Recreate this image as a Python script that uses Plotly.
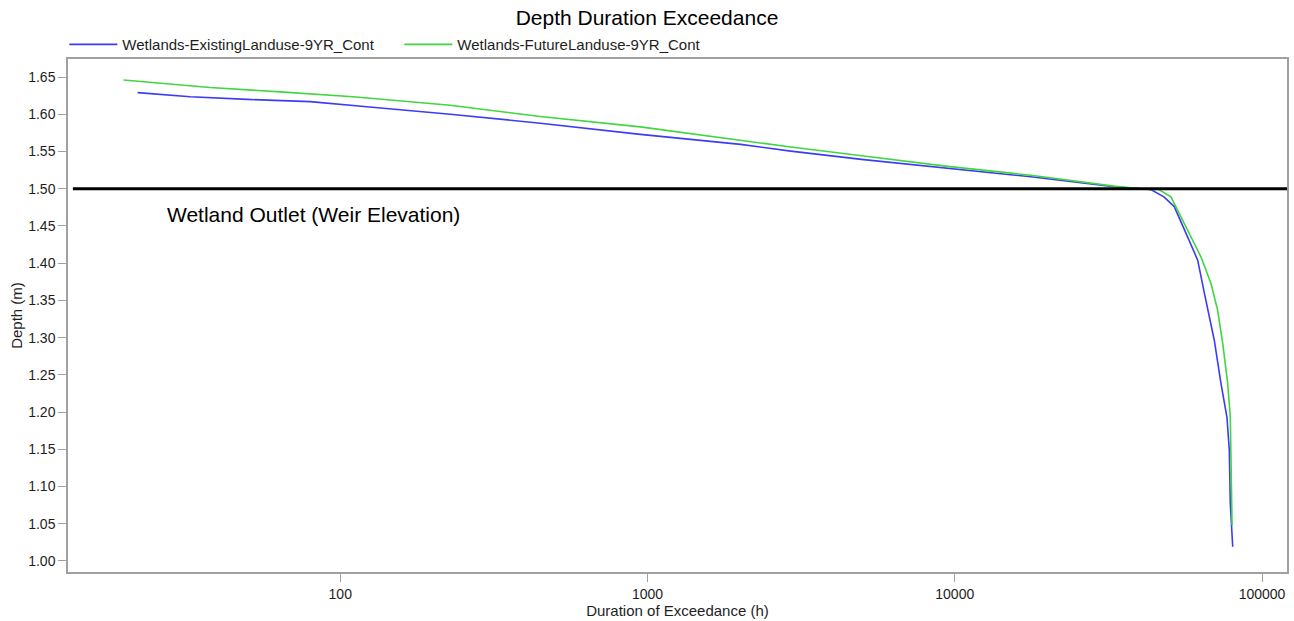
import math
import plotly.graph_objects as go

# ---- data ----
existing_duration = [21.9, 32.5, 49.7, 79.8, 122, 228, 448, 948, 2009, 2925, 5053, 9485,
                     17690, 32960, 43450, 47950, 51800, 57300, 61750, 64900, 69930,
                     73500, 76900, 78260, 78860, 80290]
existing_depth = [1.629, 1.6235, 1.620, 1.617, 1.610, 1.600, 1.588, 1.573, 1.5595, 1.5505,
                  1.539, 1.527, 1.516, 1.5026, 1.499, 1.489, 1.476, 1.435, 1.404, 1.360,
                  1.2965, 1.239, 1.193, 1.149, 1.077, 1.019]

future_duration = [19.7, 37.7, 63.8, 110, 228, 448, 948, 2009, 2925, 5053, 9485, 17690,
                   32960, 42550, 46180, 50530, 57300, 63270, 68190, 71700, 74480, 77300,
                   78860, 79300, 79900]
future_depth = [1.646, 1.636, 1.630, 1.6235, 1.612, 1.597, 1.583, 1.565, 1.556, 1.544,
                1.530, 1.518, 1.5035, 1.499, 1.499, 1.489, 1.444, 1.4085, 1.373, 1.337,
                1.2925, 1.239, 1.193, 1.104, 1.048]

WEIR_ELEVATION = 1.50
x_tick_vals = [100, 1000, 10000, 100000]
x_tick_text = ["100", "1000", "10000", "100000"]
y_tick_vals = [1.00, 1.05, 1.10, 1.15, 1.20, 1.25, 1.30, 1.35, 1.40, 1.45, 1.50, 1.55, 1.60, 1.65]

FONT = "Arial, Liberation Sans, sans-serif"
AXIS_GRAY = "#a0a0a0"
TEXT = "#1e1e1e"

fig = go.Figure()
fig.add_trace(go.Scatter(x=existing_duration, y=existing_depth, mode="lines",
                         name="Wetlands-ExistingLanduse-9YR_Cont",
                         line=dict(color="#3c3cf4", width=1.6)))
fig.add_trace(go.Scatter(x=future_duration, y=future_depth, mode="lines",
                         name="Wetlands-FutureLanduse-9YR_Cont",
                         line=dict(color="#3fd63f", width=1.6)))

fig.add_shape(type="line", xref="paper", yref="y", x0=0.004, x1=1,
              y0=WEIR_ELEVATION, y1=WEIR_ELEVATION, line=dict(color="black", width=3))
fig.add_annotation(text="Wetland Outlet (Weir Elevation)", xref="paper", yref="y",
                   x=0.0796, y=1.466, xanchor="left", yanchor="middle", showarrow=False,
                   font=dict(family=FONT, size=21, color="black"))

fig.update_layout(
    width=1294, height=621,
    margin=dict(l=68, r=7, t=59, b=49, autoexpand=False),
    paper_bgcolor="white", plot_bgcolor="white",
    font=dict(family=FONT, size=14, color=TEXT),
    title=dict(text="Depth Duration Exceedance", x=0.5, xanchor="center",
               y=0.971, yanchor="middle", font=dict(family=FONT, size=21, color="black")),
    legend=dict(orientation="h", x=-0.003, xanchor="left", y=1.028, yanchor="middle",
                font=dict(family=FONT, size=15, color=TEXT),
                bgcolor="rgba(0,0,0,0)", itemwidth=48, tracegroupgap=0,
                entrywidth=272, entrywidthmode="pixels"),
    showlegend=True,
)
fig.update_xaxes(type="log", range=[math.log10(13.0), math.log10(120600)],
                 tickvals=x_tick_vals, ticktext=x_tick_text, automargin=False,
                 showgrid=False, zeroline=False, showline=True, linecolor=AXIS_GRAY,
                 linewidth=1.5, mirror=True, ticks="outside", ticklen=8, tickcolor=AXIS_GRAY,
                 tickfont=dict(family=FONT, size=14, color=TEXT),
                 title=dict(text="Duration of Exceedance (h)", standoff=0,
                            font=dict(family=FONT, size=15, color=TEXT)))
fig.update_yaxes(range=[0.9852, 1.6742], tickvals=y_tick_vals, tickformat=".2f",
                 automargin=False,
                 showgrid=False, zeroline=False, showline=True, linecolor=AXIS_GRAY,
                 linewidth=1.5, mirror=True, ticks="outside", ticklen=8, tickcolor=AXIS_GRAY,
                 tickfont=dict(family=FONT, size=14, color=TEXT),
                 title=dict(text="Depth (m)", standoff=2,
                            font=dict(family=FONT, size=15, color=TEXT)))

fig.write_html("out.html", config={"displayModeBar": False},
               post_script="document.body.style.margin='0';document.body.style.overflow='hidden';")
